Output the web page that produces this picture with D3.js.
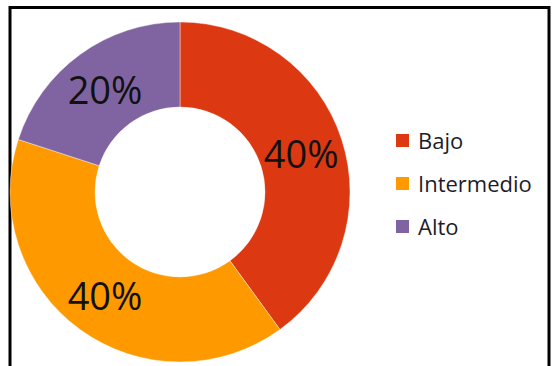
<!DOCTYPE html>
<html>
<head>
<meta charset="utf-8">
<script src="https://cdn.jsdelivr.net/npm/d3@7"></script>
<style>
  html, body { margin: 0; padding: 0; background: #fff; }
  svg { display: block; }
</style>
</head>
<body>
<svg id="chart" width="554" height="366"></svg>
<script>
// Category names, their shares (%) and slice colours
const categories = ["Bajo", "Intermedio", "Alto"];
const values = [40, 40, 20];
const colors = ["#DC3912", "#FF9900", "#8064A2"];

const svg = d3.select("#chart");
const W = 554, H = 366;

// Frame around the chart area (bottom edge falls outside the view)
svg.append("rect")
  .attr("x", 10).attr("y", 7.5)
  .attr("width", 539).attr("height", 400)
  .attr("fill", "#fff")
  .attr("stroke", "#000")
  .attr("stroke-width", 3);

const cx = 180, cy = 192;
const outerR = 170, innerR = 85;

const data = categories.map((c, i) => ({ name: c, value: values[i] }));

const pie = d3.pie().sort(null).value(d => d.value);
const arc = d3.arc().innerRadius(innerR).outerRadius(outerR);

const color = d3.scaleOrdinal().domain(categories).range(colors);

const g = svg.append("g").attr("transform", `translate(${cx},${cy})`);
const arcs = pie(data);

g.selectAll("path.slice")
  .data(arcs)
  .join("path")
  .attr("class", "slice")
  .attr("d", arc)
  .attr("fill", d => color(d.data.name))
  .attr("stroke", "rgba(255,255,255,0.5)")
  .attr("stroke-width", 0.8);

// Percentage labels at slice centroids
const total = d3.sum(values);
g.selectAll("text.pct")
  .data(arcs)
  .join("text")
  .attr("class", "pct")
  .attr("x", d => arc.centroid(d)[0])
  .attr("y", d => arc.centroid(d)[1])
  .attr("text-anchor", "middle")
  .attr("dominant-baseline", "central")
  .attr("font-family", "'Open Sans', sans-serif")
  .attr("font-size", 38)
  .attr("fill", "#111")
  .text(d => Math.round(d.data.value / total * 100) + "%");

// Legend
const legend = svg.append("g").attr("transform", "translate(396,0)");
const rowY = d3.scalePoint().domain(categories).range([149, 235]);

const rows = legend.selectAll("g.row")
  .data(categories)
  .join("g")
  .attr("class", "row")
  .attr("transform", d => `translate(0,${rowY(d)})`);

rows.append("rect")
  .attr("x", 0).attr("y", -15)
  .attr("width", 13).attr("height", 13)
  .attr("fill", d => color(d));

rows.append("text")
  .attr("x", 22).attr("y", 0)
  .attr("font-family", "'Open Sans', sans-serif")
  .attr("font-size", 22)
  .attr("fill", "#1c1c2a")
  .text(d => d);
</script>
</body>
</html>
